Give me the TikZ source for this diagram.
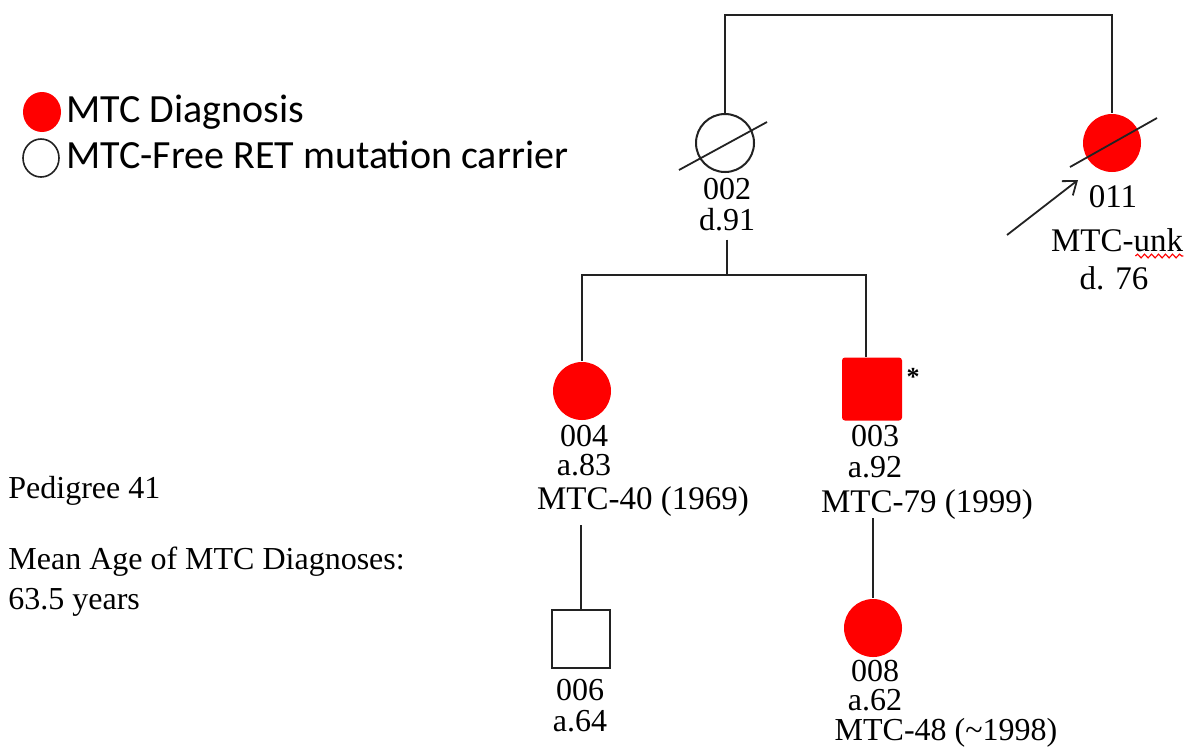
\documentclass[tikz,border=0pt]{standalone}
\usepackage{fontspec}
\setmainfont{Liberation Serif}
\newfontfamily\legendfont{Carlito}
\usetikzlibrary{arrows.meta,positioning,calc,shapes.geometric,decorations.pathmorphing}
\definecolor{mtcred}{HTML}{FF0000}
\definecolor{ink}{HTML}{222222}
\tikzset{
  ind/.style={inner sep=0pt, line width=1pt},
  female/.style={ind, circle, minimum size=29pt},
  male/.style={ind, rectangle, minimum width=29pt, minimum height=29pt},
  affected/.style={fill=mtcred, draw=none},
  carrier/.style={fill=white, draw=ink},
  lbl/.style={font=\fontsize{16}{15.5}\selectfont, align=center, inner sep=0pt},
  mtc/.style={font=\fontsize{16.5}{16}\selectfont, inner sep=0pt, anchor=base},
  ln/.style={line width=0.95pt, draw=ink},
  slash/.style={line width=0.9pt, draw=ink},
  probar/.style={-{Straight Barb[length=6pt,width=9pt]}, line width=0.9pt, draw=ink},
  legtxt/.style={font=\legendfont\fontsize{20}{24}\selectfont, inner sep=0pt, anchor=base west}
}

\begin{document}
\begin{tikzpicture}[x=0.5pt,y=-0.5pt]
  \useasboundingbox (0,0) rectangle (1187,746);

  % legend
  \node[ind, ellipse, minimum width=19pt, minimum height=20pt, affected] (leg1) at (42,112) {};
  \node[ind, ellipse, minimum width=18pt, minimum height=19pt, carrier, line width=0.8pt] (leg2) at (41,158) {};
  \node[legtxt] (legt1) at (66,122) {MTC Diagnosis};
  \node[legtxt] (legt2) at (66,168) {MTC-Free RET mutation carrier};

  \node[font=\fontsize{16}{20}\selectfont, inner sep=0pt, anchor=base west] (ped) at (8,498) {Pedigree 41};
  \node[font=\fontsize{16}{20}\selectfont, inner sep=0pt, align=left, anchor=north west] (mean) at (8,547)
    {Mean Age of MTC Diagnoses:\\63.5 years};

  % generation I
  \node[female, carrier] (i002) at (725,143) {};
  \node[female, affected] (i011) at (1112,143) {};
  \draw[slash] ($(i002)+(-46,27)$) -- ($(i002)+(42,-21)$);
  \draw[slash] ($(i011)+(-42,24)$) -- ($(i011)+(45,-25)$);
  \coordinate (mate) at (918,15);
  \draw[ln] (i002.north) |- (mate) -| (i011.north);

  \node[lbl, anchor=north] (l002) at (727,178) {002\\d.91};
  \node[mtc] (l011) at (1113,207) {011};
  \node[mtc] (m011) at (1117,251) {MTC-unk};
  \node[mtc] (d011) at (1114,289) {d. 76};
  \draw[mtcred, line width=0.6pt, decorate, decoration={snake, amplitude=0.9pt, segment length=3.5pt}]
    ([xshift=-24pt,yshift=-2.5pt]m011.base east) -- ([yshift=-2.5pt]m011.base east);

  \coordinate (arrs) at (1007,235);
  \coordinate (arre) at (1078,180);
  \draw[probar] (arrs) -- (arre);

  % generation II
  \node[female, affected] (i004) at (582,391) {};
  \node[male, affected, rounded corners=1.5pt, minimum width=30pt, minimum height=31.5pt] (i003) at (872,389) {};
  \node[font=\bfseries\fontsize{13}{13}\selectfont, inner sep=0pt] (ast) at (913,377) {*};
  \coordinate (sib) at (727,275);
  \draw[ln, shorten <=4pt] (l002.south) -- (sib);
  \draw[ln] (i004.north) |- (sib) -| ([xshift=-3pt]i003.north);

  \node[lbl, anchor=north, font=\fontsize{16}{14.5}\selectfont] (l004) at (584,425) {004\\a.83};
  \node[mtc] (m004) at (643,509) {MTC-40 (1969)};
  \node[lbl, anchor=north] (l003) at (875,425) {003\\a.92};
  \node[mtc] (m003) at (927,512) {MTC-79 (1999)};

  % generation III
  \node[male, carrier] (i006) at (581,639) {};
  \node[female, affected] (i008) at (873,628) {};
  \draw[ln] ([yshift=-8pt]i006.north |- m004.base) -- (i006.north);
  \draw[ln] ([yshift=-3pt]i008.north |- m003.base) -- (i008.north);

  \node[lbl, anchor=north] (l006) at (580,679) {006\\a.64};
  \node[lbl, anchor=north, font=\fontsize{16}{14.5}\selectfont] (l008) at (875,660) {008\\a.62};
  \node[mtc, font=\fontsize{16}{16}\selectfont] (m008) at (946,740) {MTC-48 (\textasciitilde1998)};
\end{tikzpicture}
\end{document}
